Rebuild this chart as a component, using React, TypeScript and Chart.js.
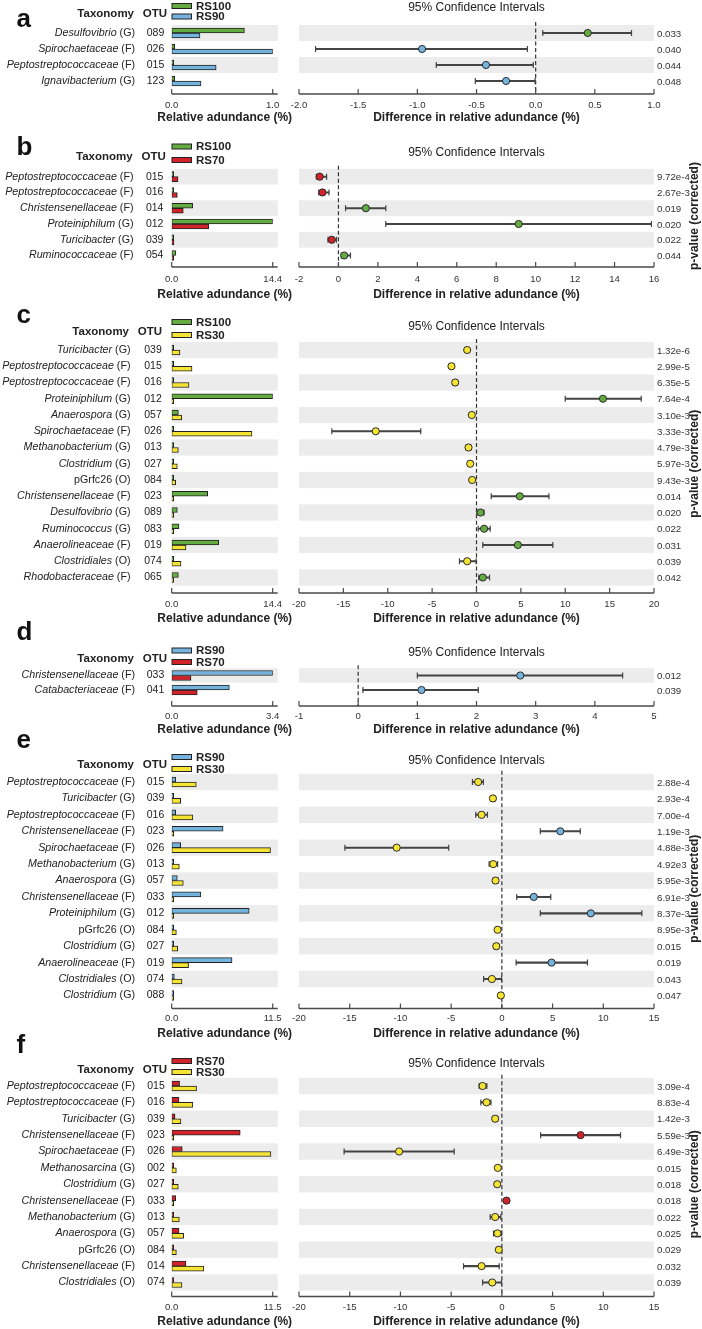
import React, { useEffect, useRef } from 'react';
import { Chart, registerables } from 'chart.js';

Chart.register(...registerables);

if (typeof document !== 'undefined') {
  document.body.style.margin = '0';
}

const FONT = '"Liberation Sans", Arial, Helvetica, sans-serif';
const TEXT = '#222222';
const AXIS = '#4a4a4a';
const BAND = '#ececec';

const GROUP_COLORS: Record<string, string> = {
  RS100: '#64ab42',
  RS90: '#74b3dd',
  RS70: '#d3232a',
  RS30: '#f5e433',
};
const ROMAN_NAMES = ['pGrfc26'];

// ---------- Panel a ----------
const A_GROUPS = ['RS100', 'RS90'];
const A_TAXA = ['Desulfovibrio (G)', 'Spirochaetaceae (F)', 'Peptostreptococcaceae (F)', 'Ignavibacterium (G)'];
const A_OTU = ['089', '026', '015', '123'];
const A_G1 = [0.72, 0.03, 0.005, 0.03];
const A_G2 = [0.28, 1.0, 0.44, 0.29];
const A_BAR_TICKS = ['0.0', '1.0'];
const A_DIFF = [0.44, -0.96, -0.42, -0.25];
const A_LO = [0.06, -1.86, -0.84, -0.51];
const A_HI = [0.81, -0.07, -0.02, -0.005];
const A_CI_TICKS = ['-2.0', '-1.5', '-1.0', '-0.5', '0.0', '0.5', '1.0'];
const A_P = ['0.033', '0.040', '0.044', '0.048'];

// ---------- Panel b ----------
const B_GROUPS = ['RS100', 'RS70'];
const B_TAXA = ['Peptostreptococcaceae (F)', 'Peptostreptococcaceae (F)', 'Christensenellaceae (F)', 'Proteiniphilum (G)', 'Turicibacter (G)', 'Ruminococcaceae (F)'];
const B_OTU = ['015', '016', '014', '012', '039', '054'];
const B_G1 = [0.05, 0.05, 3.0, 14.4, 0.03, 0.6];
const B_G2 = [0.9, 0.8, 1.65, 5.3, 0.33, 0.05];
const B_BAR_TICKS = ['0.0', '14.4'];
const B_DIFF = [-0.95, -0.81, 1.39, 9.14, -0.34, 0.29];
const B_LO = [-1.12, -1.0, 0.36, 2.4, -0.53, 0.15];
const B_HI = [-0.6, -0.48, 2.4, 15.87, -0.1, 0.61];
const B_CI_TICKS = ['-2', '0', '2', '4', '6', '8', '10', '12', '14', '16'];
const B_P = ['9.72e-4', '2.67e-3', '0.019', '0.020', '0.022', '0.044'];

// ---------- Panel c ----------
const C_GROUPS = ['RS100', 'RS30'];
const C_TAXA = ['Turicibacter (G)', 'Peptostreptococcaceae (F)', 'Peptostreptococcaceae (F)', 'Proteiniphilum (G)', 'Anaerospora (G)', 'Spirochaetaceae (F)', 'Methanobacterium (G)', 'Clostridium (G)', 'pGrfc26 (O)', 'Christensenellaceae (F)', 'Desulfovibrio (G)', 'Ruminococcus (G)', 'Anaerolineaceae (F)', 'Clostridiales (O)', 'Rhodobacteraceae (F)'];
const C_OTU = ['039', '015', '016', '012', '057', '026', '013', '027', '084', '023', '089', '083', '019', '074', '065'];
const C_G1 = [0.03, 0.05, 0.05, 14.4, 0.95, 0.05, 0.05, 0.03, 0.03, 5.13, 0.8, 1.04, 6.7, 0.05, 0.95];
const C_G2 = [1.18, 2.9, 2.47, 0.03, 1.43, 11.45, 0.95, 0.8, 0.57, 0.05, 0.1, 0.05, 2.04, 1.33, 0.05];
const C_BAR_TICKS = ['0.0', '14.4'];
const C_DIFF = [-1.05, -2.82, -2.4, 14.25, -0.53, -11.35, -0.9, -0.71, -0.49, 4.88, 0.45, 0.86, 4.66, -1.05, 0.71];
const C_LO = [-1.3, -3.05, -2.65, 10.0, -0.78, -16.3, -1.15, -0.96, -0.74, 1.66, 0.05, 0.19, 0.71, -1.92, 0.26];
const C_HI = [-0.8, -2.59, -2.15, 18.56, -0.28, -6.28, -0.65, -0.46, -0.24, 8.16, 0.85, 1.54, 8.6, -0.04, 1.47];
const C_CI_TICKS = ['-20', '-15', '-10', '-5', '0', '5', '10', '15', '20'];
const C_P = ['1.32e-6', '2.99e-5', '6.35e-5', '7.64e-4', '3.10e-3', '3.33e-3', '4.79e-3', '5.97e-3', '9.43e-3', '0.014', '0.020', '0.022', '0.031', '0.039', '0.042'];

// ---------- Panel d ----------
const D_GROUPS = ['RS90', 'RS70'];
const D_TAXA = ['Christensenellaceae (F)', 'Catabacteriaceae (F)'];
const D_OTU = ['033', '041'];
const D_G1 = [3.4, 1.94];
const D_G2 = [0.65, 0.86];
const D_BAR_TICKS = ['0.0', '3.4'];
const D_DIFF = [2.74, 1.07];
const D_LO = [1.0, 0.08];
const D_HI = [4.47, 2.03];
const D_CI_TICKS = ['-1', '0', '1', '2', '3', '4', '5'];
const D_P = ['0.012', '0.039'];

// ---------- Panel e ----------
const E_GROUPS = ['RS90', 'RS30'];
const E_TAXA = ['Peptostreptococcaceae (F)', 'Turicibacter (G)', 'Peptostreptococcaceae (F)', 'Christensenellaceae (F)', 'Spirochaetaceae (F)', 'Methanobacterium (G)', 'Anaerospora (G)', 'Christensenellaceae (F)', 'Proteiniphilum (G)', 'pGrfc26 (O)', 'Clostridium (G)', 'Anaerolineaceae (F)', 'Clostridiales (O)', 'Clostridium (G)'];
const E_OTU = ['015', '039', '016', '023', '026', '013', '057', '033', '012', '084', '027', '019', '074', '088'];
const E_G1 = [0.45, 0.05, 0.45, 5.85, 1.02, 0.03, 0.64, 3.32, 8.82, 0.02, 0.05, 6.87, 0.3, 0.03];
const E_G2 = [2.8, 1.02, 2.41, 0.05, 11.25, 0.87, 1.32, 0.05, 0.05, 0.53, 0.68, 1.92, 1.17, 0.05];
const E_BAR_TICKS = ['0.0', '11.5'];
const E_DIFF = [-2.34, -0.88, -2.0, 5.76, -10.37, -0.85, -0.62, 3.15, 8.77, -0.42, -0.55, 4.9, -0.98, -0.1];
const E_LO = [-2.9, -1.1, -2.57, 3.79, -15.47, -1.25, -0.85, 1.47, 3.79, -0.62, -0.78, 1.41, -1.8, -0.3];
const E_HI = [-1.82, -0.65, -1.42, 7.73, -5.24, -0.42, -0.4, 4.82, 13.8, -0.22, -0.32, 8.44, -0.03, 0.1];
const E_CI_TICKS = ['-20', '-15', '-10', '-5', '0', '5', '10', '15'];
const E_P = ['2.88e-4', '2.93e-4', '7.00e-4', '1.19e-3', '4.88e-3', '4.92e3', '5.95e-3', '6.91e-3', '8.37e-3', '8.95e-3', '0.015', '0.019', '0.043', '0.047'];

// ---------- Panel f ----------
const F_GROUPS = ['RS70', 'RS30'];
const F_TAXA = ['Peptostreptococcaceae (F)', 'Peptostreptococcaceae (F)', 'Turicibacter (G)', 'Christensenellaceae (F)', 'Spirochaetaceae (F)', 'Methanosarcina (G)', 'Clostridium (G)', 'Christensenellaceae (F)', 'Methanobacterium (G)', 'Anaerospora (G)', 'pGrfc26 (O)', 'Christensenellaceae (F)', 'Clostridiales (O)'];
const F_OTU = ['015', '016', '039', '023', '026', '002', '027', '033', '013', '057', '084', '014', '074'];
const F_G1 = [0.9, 0.83, 0.38, 7.8, 1.2, 0.03, 0.05, 0.45, 0.05, 0.83, 0.02, 1.62, 0.05];
const F_G2 = [2.83, 2.41, 1.05, 0.05, 11.3, 0.53, 0.75, 0.03, 0.87, 1.36, 0.53, 3.66, 1.17];
const F_BAR_TICKS = ['0.0', '11.5'];
const F_DIFF = [-1.9, -1.51, -0.66, 7.76, -10.13, -0.4, -0.46, 0.46, -0.66, -0.43, -0.3, -2.0, -0.95];
const F_LO = [-2.24, -2.07, -0.9, 3.82, -15.55, -0.62, -0.68, 0.25, -1.15, -0.82, -0.52, -3.78, -1.9];
const F_HI = [-1.48, -1.08, -0.42, 11.7, -4.7, -0.18, -0.24, 0.68, -0.1, -0.03, -0.08, -0.26, -0.03];
const F_CI_TICKS = ['-20', '-15', '-10', '-5', '0', '5', '10', '15'];
const F_P = ['3.09e-4', '8.83e-4', '1.42e-3', '5.59e-3', '6.49e-3', '0.015', '0.018', '0.018', '0.022', '0.025', '0.029', '0.032', '0.039'];

type PanelData = {
  letter: string;
  groups: string[];
  taxa: string[];
  otu: string[];
  g1: number[];
  g2: number[];
  barTicks: string[];
  diff: number[];
  lo: number[];
  hi: number[];
  ciTicks: string[];
  pvals: string[];
};

const PANELS: PanelData[] = [
  { letter: 'a', groups: A_GROUPS, taxa: A_TAXA, otu: A_OTU, g1: A_G1, g2: A_G2, barTicks: A_BAR_TICKS, diff: A_DIFF, lo: A_LO, hi: A_HI, ciTicks: A_CI_TICKS, pvals: A_P },
  { letter: 'b', groups: B_GROUPS, taxa: B_TAXA, otu: B_OTU, g1: B_G1, g2: B_G2, barTicks: B_BAR_TICKS, diff: B_DIFF, lo: B_LO, hi: B_HI, ciTicks: B_CI_TICKS, pvals: B_P },
  { letter: 'c', groups: C_GROUPS, taxa: C_TAXA, otu: C_OTU, g1: C_G1, g2: C_G2, barTicks: C_BAR_TICKS, diff: C_DIFF, lo: C_LO, hi: C_HI, ciTicks: C_CI_TICKS, pvals: C_P },
  { letter: 'd', groups: D_GROUPS, taxa: D_TAXA, otu: D_OTU, g1: D_G1, g2: D_G2, barTicks: D_BAR_TICKS, diff: D_DIFF, lo: D_LO, hi: D_HI, ciTicks: D_CI_TICKS, pvals: D_P },
  { letter: 'e', groups: E_GROUPS, taxa: E_TAXA, otu: E_OTU, g1: E_G1, g2: E_G2, barTicks: E_BAR_TICKS, diff: E_DIFF, lo: E_LO, hi: E_HI, ciTicks: E_CI_TICKS, pvals: E_P },
  { letter: 'f', groups: F_GROUPS, taxa: F_TAXA, otu: F_OTU, g1: F_G1, g2: F_G2, barTicks: F_BAR_TICKS, diff: F_DIFF, lo: F_LO, hi: F_HI, ciTicks: F_CI_TICKS, pvals: F_P },
];

// ---------- Layout (page pixels) ----------
type Layout = {
  top: number; bottom: number; letterY: number; leg1: number; leg2: number; headY: number;
  ciTitleY: number; row1: number; pitch: number; axisY: number; tickY: number; titleY: number;
  pLabel: boolean; taxRight: number; otuX: number; headTaxRight: number; headOtuX: number;
};

const LAYOUT: Layout[] = [
  { top: 0, bottom: 128, letterY: 27, leg1: 6, leg2: 16.5, headY: 14, ciTitleY: 8, row1: 33, pitch: 16, axisY: 94, tickY: 105, titleY: 118, pLabel: false, taxRight: 135, otuX: 155.5, headTaxRight: 134, headOtuX: 155 },
  { top: 128, bottom: 305, letterY: 155, leg1: 146.5, leg2: 160, headY: 157, ciTitleY: 153, row1: 176.7, pitch: 15.76, axisY: 267, tickY: 279, titleY: 294.5, pLabel: true, taxRight: 133.5, otuX: 154.7, headTaxRight: 132.7, headOtuX: 153.7 },
  { top: 298, bottom: 628, letterY: 323, leg1: 322, leg2: 335, headY: 332, ciTitleY: 327, row1: 350, pitch: 16.25, axisY: 593, tickY: 604, titleY: 619, pLabel: true, taxRight: 130.5, otuX: 153, headTaxRight: 129, headOtuX: 150 },
  { top: 612, bottom: 740, letterY: 640, leg1: 650.5, leg2: 662, headY: 659, ciTitleY: 653, row1: 675.5, pitch: 14.5, axisY: 706, tickY: 716, titleY: 730, pLabel: false, taxRight: 135, otuX: 155.5, headTaxRight: 134, headOtuX: 155 },
  { top: 722, bottom: 1044, letterY: 748, leg1: 757, leg2: 769, headY: 765, ciTitleY: 761, row1: 782, pitch: 16.42, axisY: 1008.5, tickY: 1018, titleY: 1034, pLabel: true, taxRight: 135, otuX: 155.5, headTaxRight: 134, headOtuX: 155 },
  { top: 1028, bottom: 1329, letterY: 1053, leg1: 1061, leg2: 1072, headY: 1070, ciTitleY: 1064, row1: 1086, pitch: 16.375, axisY: 1296.5, tickY: 1307, titleY: 1322, pLabel: true, taxRight: 135, otuX: 156, headTaxRight: 134, headOtuX: 155 },
];

const LEFT_W = 310;
const RIGHT_X = 290;
const RIGHT_W = 412;
const BAR_LEFT = 171.7;
const BAR_RIGHT = 272.7;
const CI_LEFT = 299;
const CI_RIGHT = 654;
const PVAL_X = 657;
const PLABEL_X = 695;

function drawAxis(ctx: CanvasRenderingContext2D, xs: any, ticks: string[], x0: number, x1: number, axY: number, tickY: number) {
  ctx.strokeStyle = AXIS;
  ctx.lineWidth = 1.5;
  ctx.beginPath();
  ctx.moveTo(x0, axY);
  ctx.lineTo(x1, axY);
  ctx.stroke();
  ctx.lineWidth = 1.2;
  ctx.font = `9.6px ${FONT}`;
  ctx.fillStyle = '#333';
  ctx.textAlign = 'center';
  ctx.textBaseline = 'middle';
  ticks.forEach((t) => {
    const px = xs.getPixelForValue(parseFloat(t));
    ctx.beginPath();
    ctx.moveTo(px, axY - 5);
    ctx.lineTo(px, axY);
    ctx.stroke();
    ctx.fillText(t, px, tickY);
  });
}

function makeLeftPlugin(p: PanelData, L: Layout) {
  return {
    id: 'leftDeco',
    beforeDatasetsDraw(chart: any) {
      const { ctx, chartArea } = chart;
      const xs = chart.scales.x;
      const ys = chart.scales.y;
      const n = p.otu.length;
      const pitch = (chartArea.bottom - chartArea.top) / n;
      const bandR = xs.getPixelForValue(xs.max) + 5;
      ctx.save();
      ctx.fillStyle = BAND;
      for (let i = 0; i < n; i += 2) {
        const cy = ys.getPixelForValue(i);
        ctx.fillRect(chartArea.left, cy - pitch / 2, bandR - chartArea.left, pitch);
      }
      ctx.restore();
    },
    afterDraw(chart: any) {
      const { ctx } = chart;
      const xs = chart.scales.x;
      const ys = chart.scales.y;
      const oy = L.top;
      ctx.save();
      // panel letter
      ctx.fillStyle = '#111';
      ctx.textBaseline = 'alphabetic';
      ctx.textAlign = 'left';
      ctx.font = `bold 26px ${FONT}`;
      ctx.fillText(p.letter, 16.5, L.letterY - oy);
      // header
      ctx.fillStyle = TEXT;
      ctx.textBaseline = 'middle';
      ctx.font = `bold 11.5px ${FONT}`;
      ctx.textAlign = 'right';
      ctx.fillText('Taxonomy', L.headTaxRight, L.headY - oy);
      ctx.textAlign = 'center';
      ctx.fillText('OTU', L.headOtuX, L.headY - oy);
      // legend
      [L.leg1, L.leg2].forEach((ly, k) => {
        const ry = ly - oy - 2.5;
        ctx.fillStyle = GROUP_COLORS[p.groups[k]];
        ctx.fillRect(172, ry, 19.5, 5);
        ctx.strokeStyle = '#222';
        ctx.lineWidth = 1;
        ctx.strokeRect(172, ry, 19.5, 5);
        ctx.fillStyle = TEXT;
        ctx.textAlign = 'left';
        ctx.font = `bold 11.5px ${FONT}`;
        ctx.fillText(p.groups[k], 196, ly - oy + 0.5);
      });
      // row labels
      p.taxa.forEach((t, i) => {
        const cy = ys.getPixelForValue(i);
        const m = t.match(/^(.*) (\([A-Z]\))$/);
        const name = m ? m[1] : t;
        const rank = m ? m[2] : '';
        ctx.fillStyle = TEXT;
        ctx.textAlign = 'right';
        ctx.font = `10.7px ${FONT}`;
        const rw = ctx.measureText(rank).width;
        const sw = ctx.measureText(' ').width;
        ctx.fillText(rank, L.taxRight, cy);
        const italic = ROMAN_NAMES.indexOf(name) < 0;
        ctx.font = `${italic ? 'italic ' : ''}10.7px ${FONT}`;
        ctx.fillText(name, L.taxRight - rw - sw, cy);
        ctx.textAlign = 'center';
        ctx.font = `10.5px ${FONT}`;
        ctx.fillText(p.otu[i], L.otuX, cy);
      });
      // axis
      const x0 = xs.getPixelForValue(xs.min);
      const bandR = xs.getPixelForValue(xs.max) + 5;
      drawAxis(ctx, xs, p.barTicks, x0, bandR, L.axisY - oy, L.tickY - oy);
      ctx.fillStyle = TEXT;
      ctx.font = `bold 12px ${FONT}`;
      ctx.textAlign = 'center';
      ctx.textBaseline = 'middle';
      ctx.fillText('Relative adundance (%)', (x0 + bandR) / 2, L.titleY - oy);
      ctx.restore();
    },
  };
}

function makeRightPlugin(p: PanelData, L: Layout) {
  return {
    id: 'rightDeco',
    beforeDatasetsDraw(chart: any) {
      const { ctx, chartArea } = chart;
      const xs = chart.scales.x;
      const ys = chart.scales.y;
      const n = p.otu.length;
      const pitch = (chartArea.bottom - chartArea.top) / n;
      ctx.save();
      ctx.fillStyle = BAND;
      for (let i = 0; i < n; i += 2) {
        const cy = ys.getPixelForValue(i);
        ctx.fillRect(chartArea.left, cy - pitch / 2, chartArea.right - chartArea.left, pitch);
      }
      // zero line
      const zx = xs.getPixelForValue(0);
      ctx.strokeStyle = '#333';
      ctx.lineWidth = 1.2;
      ctx.setLineDash([4, 2.5]);
      ctx.beginPath();
      ctx.moveTo(zx, chartArea.top - 3);
      ctx.lineTo(zx, L.axisY - L.top);
      ctx.stroke();
      ctx.restore();
    },
    afterDraw(chart: any) {
      const { ctx, chartArea } = chart;
      const xs = chart.scales.x;
      const ys = chart.scales.y;
      const oy = L.top;
      ctx.save();
      const x0 = xs.getPixelForValue(xs.min);
      const x1 = xs.getPixelForValue(xs.max);
      drawAxis(ctx, xs, p.ciTicks, x0, x1, L.axisY - oy, L.tickY - oy);
      const cx = (chartArea.left + chartArea.right) / 2;
      ctx.fillStyle = TEXT;
      ctx.textAlign = 'center';
      ctx.textBaseline = 'middle';
      ctx.font = `bold 12px ${FONT}`;
      ctx.fillText('Difference in relative adundance (%)', cx, L.titleY - oy);
      ctx.font = `12px ${FONT}`;
      ctx.fillText('95% Confidence Intervals', cx, L.ciTitleY - oy);
      // p values
      ctx.font = `9.7px ${FONT}`;
      ctx.textAlign = 'left';
      ctx.fillStyle = '#333';
      p.pvals.forEach((pv, i) => {
        ctx.fillText(pv, PVAL_X - RIGHT_X, ys.getPixelForValue(i) + 1);
      });
      if (L.pLabel) {
        ctx.save();
        ctx.translate(PLABEL_X - RIGHT_X, (chartArea.top + chartArea.bottom) / 2);
        ctx.rotate(-Math.PI / 2);
        ctx.fillStyle = TEXT;
        ctx.font = `bold 12px ${FONT}`;
        ctx.textAlign = 'center';
        ctx.textBaseline = 'middle';
        ctx.fillText('p-value (corrected)', 0, 0);
        ctx.restore();
      }
      ctx.restore();
    },
  };
}

function PanelView({ p, L }: { p: PanelData; L: Layout }) {
  const leftRef = useRef<HTMLCanvasElement>(null);
  const rightRef = useRef<HTMLCanvasElement>(null);
  const H = L.bottom - L.top;

  useEffect(() => {
    const n = p.otu.length;
    const rowTop = L.row1 - L.pitch / 2;
    const rowBottom = rowTop + n * L.pitch;
    const padTop = rowTop - L.top;
    const padBottom = L.bottom - rowBottom;
    const c1 = GROUP_COLORS[p.groups[0]];
    const c2 = GROUP_COLORS[p.groups[1]];
    const barMax = parseFloat(p.barTicks[p.barTicks.length - 1]);
    const ciMin = parseFloat(p.ciTicks[0]);
    const ciMax = parseFloat(p.ciTicks[p.ciTicks.length - 1]);

    const left = new Chart(leftRef.current as HTMLCanvasElement, {
      type: 'bar',
      data: {
        labels: p.otu,
        datasets: [
          { label: p.groups[0], data: p.g1, backgroundColor: c1, borderColor: '#222', borderWidth: 1, borderSkipped: false, barThickness: 5, minBarLength: 2 },
          { label: p.groups[1], data: p.g2, backgroundColor: c2, borderColor: '#222', borderWidth: 1, borderSkipped: false, barThickness: 5, minBarLength: 2 },
        ],
      },
      options: {
        indexAxis: 'y',
        animation: false,
        responsive: false,
        devicePixelRatio: 1,
        layout: { padding: { left: BAR_LEFT, right: LEFT_W - BAR_RIGHT, top: padTop, bottom: padBottom } },
        scales: {
          x: { type: 'linear', display: false, min: 0, max: barMax },
          y: { type: 'category', display: false, offset: true },
        },
        plugins: { legend: { display: false }, tooltip: { enabled: false } },
      } as any,
      plugins: [makeLeftPlugin(p, L)],
    } as any);

    const pointColors = p.diff.map((v) => (v > 0 ? c1 : c2));
    const caps: any[] = [];
    p.lo.forEach((l, i) => {
      caps.push({ x: l, y: p.otu[i] });
      caps.push({ x: p.hi[i], y: p.otu[i] });
    });

    const right = new Chart(rightRef.current as HTMLCanvasElement, {
      type: 'bar',
      data: {
        labels: p.otu,
        datasets: [
          {
            type: 'scatter',
            data: p.diff.map((v, i) => ({ x: v, y: p.otu[i] })),
            pointRadius: 3.6,
            pointBackgroundColor: pointColors,
            pointBorderColor: '#2a2a2a',
            pointBorderWidth: 1,
            order: 0,
          },
          {
            type: 'scatter',
            data: caps,
            pointStyle: 'line',
            pointRotation: 90,
            pointRadius: 3,
            pointBorderColor: '#444',
            pointBorderWidth: 1.2,
            order: 1,
          },
          {
            type: 'bar',
            data: p.lo.map((l, i) => [l, p.hi[i]]),
            backgroundColor: '#444',
            borderWidth: 0,
            barThickness: 1.4,
            order: 2,
          },
        ],
      },
      options: {
        indexAxis: 'y',
        animation: false,
        responsive: false,
        devicePixelRatio: 1,
        layout: { padding: { left: CI_LEFT - RIGHT_X, right: RIGHT_X + RIGHT_W - CI_RIGHT, top: padTop, bottom: padBottom } },
        scales: {
          x: { type: 'linear', display: false, min: ciMin, max: ciMax },
          y: { type: 'category', display: false, offset: true },
        },
        plugins: { legend: { display: false }, tooltip: { enabled: false } },
      } as any,
      plugins: [makeRightPlugin(p, L)],
    } as any);

    return () => {
      left.destroy();
      right.destroy();
    };
  }, [p, L]);

  return (
    <>
      <canvas
        ref={leftRef}
        width={LEFT_W}
        height={H}
        style={{ position: 'absolute', left: 0, top: L.top, width: LEFT_W, height: H }}
      />
      <canvas
        ref={rightRef}
        width={RIGHT_W}
        height={H}
        style={{ position: 'absolute', left: RIGHT_X, top: L.top, width: RIGHT_W, height: H }}
      />
    </>
  );
}

export default function App() {
  return (
    <div style={{ position: 'relative', width: 702, height: 1329, background: '#ffffff', overflow: 'hidden' }}>
      {PANELS.map((p, i) => (
        <PanelView key={p.letter} p={p} L={LAYOUT[i]} />
      ))}
    </div>
  );
}
